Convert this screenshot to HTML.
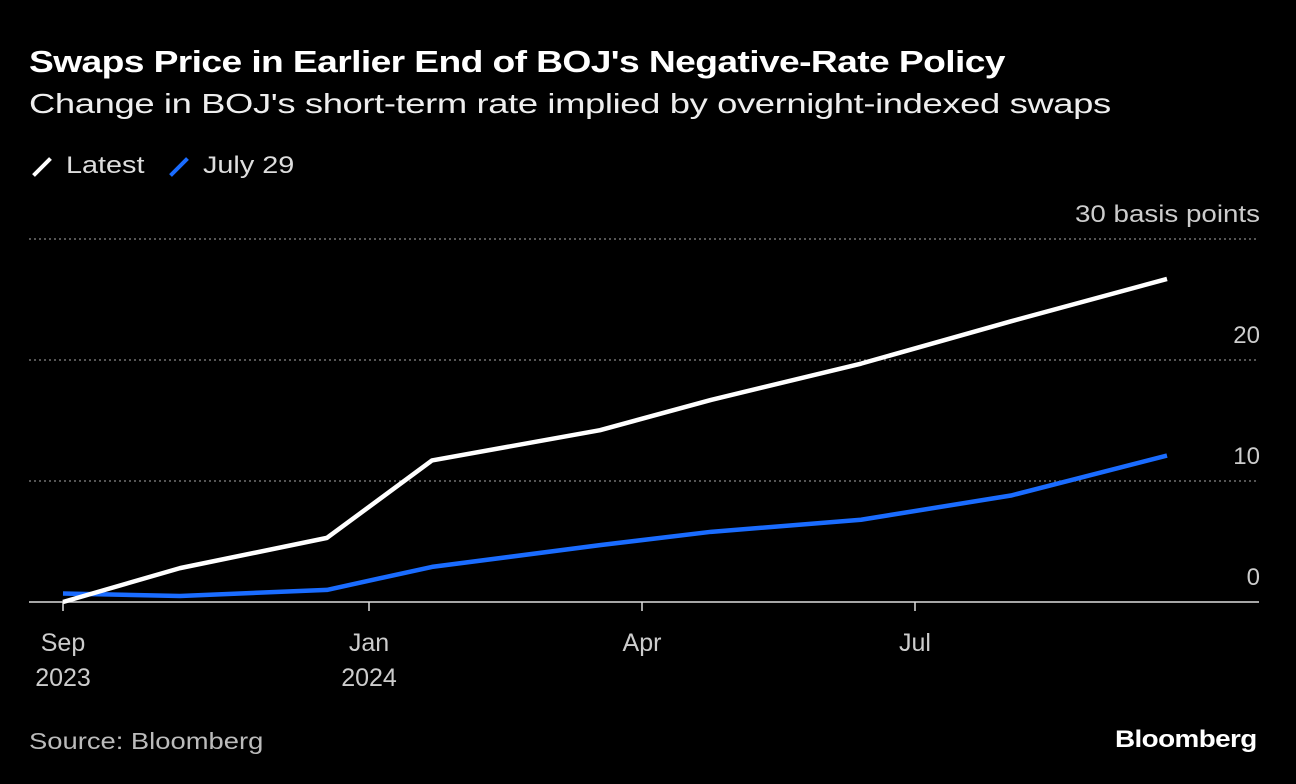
<!DOCTYPE html>
<html><head><meta charset="utf-8"><style>
body{margin:0;background:#000;width:1296px;height:784px;overflow:hidden;font-family:"Liberation Sans",sans-serif;color:#fff}
.t{position:absolute;white-space:nowrap;transform-origin:0 0}
</style></head><body>
<div class="t" style="left:29px;top:44px;font-size:31px;font-weight:bold;letter-spacing:-0.5px;transform:scaleX(1.2)">Swaps Price in Earlier End of BOJ's Negative-Rate Policy</div>
<div class="t" style="left:29px;top:88px;font-size:28px;color:#eee;letter-spacing:-0.3px;transform:scaleX(1.3)">Change in BOJ's short-term rate implied by overnight-indexed swaps</div>
<div class="t" style="left:30px;top:152px;font-size:24px;color:#ddd"><span style="display:inline-block;width:24px;height:4px;background:#fff;transform:rotate(-45deg);vertical-align:middle;margin-right:12px"></span><span style="display:inline-block;transform:scaleX(1.2);transform-origin:0 0">Latest</span></div>
<div class="t" style="left:167px;top:152px;font-size:24px;color:#ddd"><span style="display:inline-block;width:24px;height:4px;background:#1a6cff;transform:rotate(-45deg);vertical-align:middle;margin-right:12px"></span><span style="display:inline-block;transform:scaleX(1.2);transform-origin:0 0">July 29</span></div>
<svg id="c" width="1296" height="784" style="position:absolute;left:0;top:0"></svg>
<div class="t" style="left:29px;top:728px;font-size:23px;color:#bbb;transform:scaleX(1.19)">Source: Bloomberg</div>
<div class="t" style="left:1115px;top:726px;font-size:24px;font-weight:bold;letter-spacing:-0.5px;transform:scaleX(1.16)">Bloomberg</div>
<script>
const days=[-102,-63,-14,21,77,114,164,214,266];
const latest=[0,2.8,5.3,11.7,14.2,16.7,19.7,23.2,26.7];
const july29=[0.7,0.5,1.0,2.9,4.7,5.8,6.8,8.8,12.1];
const yTicks=[0,10,20,30];
const xTickDays=[-102,0,91,182];
const xTickLabels=[["Sep","2023"],["Jan","2024"],["Apr",""],["Jul",""]];
const NS="http://www.w3.org/2000/svg",svg=document.getElementById('c');
const X=d=>369+3*d, Y=v=>602-12.1*v;
function mk(t,a){const e=document.createElementNS(NS,t);for(const k in a)e.setAttribute(k,a[k]);svg.appendChild(e);return e;}
yTicks.forEach(v=>{
 if(v>0){const g=mk('line',{x1:29,x2:1259,y1:Y(v),y2:Y(v),stroke:'#888','stroke-dasharray':'2,3','stroke-width':1.2});
 
 }
 const t=mk('text',{x:1260,y:Y(v)-17,'text-anchor':'end',fill:'#ccc','font-size':24,'font-family':'Liberation Sans, sans-serif'});
 t.textContent=v==30?'30 basis points':String(v);
 if(v==30){t.setAttribute('textLength',185);t.setAttribute('lengthAdjust','spacingAndGlyphs');}
 
 
});
const ax=mk('line',{x1:29,x2:1259,y1:Y(0),y2:Y(0),stroke:'#ddd','stroke-width':1.5});


xTickDays.forEach((d,i)=>{
 const tk=mk('line',{x1:X(d),x2:X(d),y1:Y(0),y2:Y(0)+9,stroke:'#ddd','stroke-width':1.5});
 
 
 xTickLabels[i].forEach((s,j)=>{if(!s)return;
  const t=mk('text',{x:X(d),y:651+j*35,'text-anchor':'middle',fill:'#ccc','font-size':25,'font-family':'Liberation Sans, sans-serif'});
  t.textContent=s;
  
  });
});
function line(vals,col,name){
 const p=mk('polyline',{points:vals.map((v,i)=>X(days[i])+','+Y(v)).join(' '),fill:'none',stroke:col,'stroke-width':4.5,'stroke-linejoin':'round'});
 
 
}
line(july29,'#1a6cff','series-july29');
line(latest,'#fff','series-latest');
</script>
</body></html>
